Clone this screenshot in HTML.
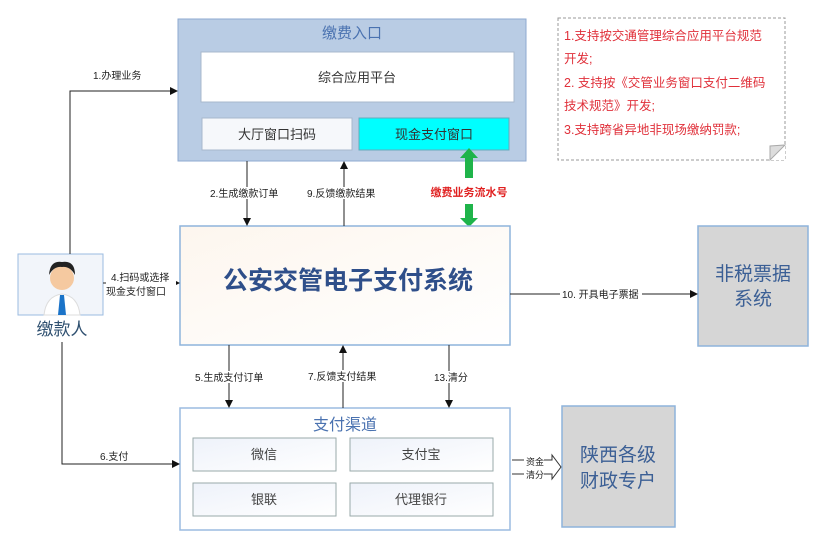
<!DOCTYPE html>
<html><head><meta charset="utf-8"><style>
body{margin:0;background:#fff;}
svg text{font-family:"Liberation Sans","Noto Sans CJK SC",sans-serif;}
</style></head><body>
<svg width="831" height="551" viewBox="0 0 831 551" xmlns="http://www.w3.org/2000/svg">
<defs>
<marker id="a" markerWidth="8" markerHeight="8" refX="7" refY="4" orient="auto" markerUnits="userSpaceOnUse"><path d="M0,0 L8,4 L0,8 z" fill="#111"/></marker>
<linearGradient id="g1" x1="0" y1="0" x2="1" y2="1"><stop offset="0" stop-color="#fdf6ee"/><stop offset="1" stop-color="#ffffff"/></linearGradient>
<linearGradient id="g2" x1="0" y1="0" x2="1" y2="1"><stop offset="0" stop-color="#eef2fa"/><stop offset="1" stop-color="#ffffff"/></linearGradient>
</defs>
<!-- top box -->
<rect x="178" y="19" width="348" height="142" fill="#b9cce4" stroke="#8eaad0"/>
<text x="352" y="38" font-size="15" fill="#4a72b0" text-anchor="middle">缴费入口</text>
<rect x="201" y="52" width="313" height="50" fill="#fff" stroke="#a8b8cc"/>
<text x="357" y="82" font-size="13" fill="#333" text-anchor="middle">综合应用平台</text>
<rect x="202" y="118" width="150" height="32" fill="#f6f8fb" stroke="#a8b8cc"/>
<text x="277" y="139" font-size="13" fill="#333" text-anchor="middle">大厅窗口扫码</text>
<rect x="359" y="118" width="150" height="32" fill="#00ffff" stroke="#6ab"/>
<text x="434" y="139" font-size="13" fill="#333" text-anchor="middle">现金支付窗口</text>
<!-- green double arrow -->
<path d="M469,148 L478,158 L473,158 L473,178 L465,178 L465,158 L460,158 z" fill="#1fb44a"/>
<path d="M465,204 L473,204 L473,218 L478,218 L469,227 L460,218 L465,218 z" fill="#1fb44a"/>
<text x="469" y="196" font-size="11" font-weight="bold" fill="#e02020" text-anchor="middle">缴费业务流水号</text>
<!-- note -->
<rect x="558" y="18" width="227" height="142" fill="#fff" stroke="#999" stroke-dasharray="3,2"/>
<path d="M770,145 L785,145 L785,160 L770,160 z" fill="#fff"/>
<path d="M770,160 L785,145 L770,146 z" fill="#ddd" stroke="#aaa"/>
<g font-size="12.5" fill="#e0303a">
<text x="564" y="40">1.支持按交通管理综合应用平台规范</text>
<text x="564" y="63">开发;</text>
<text x="564" y="87">2. 支持按《交管业务窗口支付二维码</text>
<text x="564" y="110">技术规范》开发;</text>
<text x="564" y="134">3.支持跨省异地非现场缴纳罚款;</text>
</g>
<!-- main box -->
<rect x="180" y="226" width="330" height="119" fill="url(#g1)" stroke="#8eb4dc" stroke-width="1.5"/>
<text x="348" y="289" font-size="25" font-weight="bold" fill="#2f4f8a" text-anchor="middle">公安交管电子支付系统</text>
<!-- 非税 -->
<rect x="698" y="226" width="110" height="120" fill="#d6d6d6" stroke="#8eb4dc" stroke-width="1.5"/>
<text x="753" y="280" font-size="19" fill="#3b5f95" text-anchor="middle">非税票据</text>
<text x="753" y="305" font-size="19" fill="#3b5f95" text-anchor="middle">系统</text>
<!-- person -->
<rect x="18" y="254" width="85" height="61" fill="#f2f5fa" stroke="#9bbbe0"/>
<circle cx="62" cy="278" r="12" fill="#f5c9a0"/>
<path d="M49,275 Q50,260 62,262 Q75,260 75,275 Q70,266 62,267 Q54,266 49,275z" fill="#222"/>
<path d="M44,315 Q46,296 62,294 Q78,296 80,315z" fill="#fff" stroke="#ddd"/>
<path d="M60,295 L64,295 L66,315 L58,315z" fill="#1a73c8"/>
<text x="62" y="335" font-size="17" fill="#2f5070" text-anchor="middle">缴款人</text>
<!-- bottom box -->
<rect x="180" y="408" width="330" height="122" fill="#fff" stroke="#9bbbe0" stroke-width="1.5"/>
<text x="345" y="430" font-size="16" fill="#4a72b0" text-anchor="middle">支付渠道</text>
<rect x="193" y="438" width="143" height="33" fill="url(#g2)" stroke="#9aa"/>
<text x="264" y="459" font-size="13" fill="#444" text-anchor="middle">微信</text>
<rect x="350" y="438" width="143" height="33" fill="url(#g2)" stroke="#9aa"/>
<text x="421" y="459" font-size="13" fill="#444" text-anchor="middle">支付宝</text>
<rect x="193" y="483" width="143" height="33" fill="url(#g2)" stroke="#9aa"/>
<text x="264" y="504" font-size="13" fill="#444" text-anchor="middle">银联</text>
<rect x="350" y="483" width="143" height="33" fill="url(#g2)" stroke="#9aa"/>
<text x="421" y="504" font-size="13" fill="#444" text-anchor="middle">代理银行</text>
<!-- 陕西 -->
<rect x="562" y="406" width="113" height="121" fill="#d6d6d6" stroke="#8eb4dc" stroke-width="1.5"/>
<text x="618" y="461" font-size="19" fill="#3b5f95" text-anchor="middle">陕西各级</text>
<text x="618" y="487" font-size="19" fill="#3b5f95" text-anchor="middle">财政专户</text>
<!-- hollow arrow -->
<path d="M512,460 L552,460 L552,455 L561,467 L552,479 L552,474 L512,474" fill="#fff" stroke="#333"/>
<rect x="524" y="458" width="20" height="7" fill="#fff"/><rect x="524" y="470" width="20" height="7" fill="#fff"/>
<text x="535" y="465" font-size="9" fill="#222" text-anchor="middle">资金</text>
<text x="535" y="478" font-size="9" fill="#222" text-anchor="middle">清分</text>
<!-- connectors -->
<g stroke="#222" stroke-width="1" fill="none">
<path d="M70,254 L70,91 L177,91" marker-end="url(#a)"/>
<path d="M247,161 L247,225" marker-end="url(#a)"/>
<path d="M344,226 L344,162" marker-end="url(#a)"/>
<path d="M103,283 L179,283" marker-end="url(#a)"/>
<path d="M510,294 L697,294" marker-end="url(#a)"/>
<path d="M229,345 L229,407" marker-end="url(#a)"/>
<path d="M343,408 L343,346" marker-end="url(#a)"/>
<path d="M449,345 L449,407" marker-end="url(#a)"/>
<path d="M62,342 L62,464 L179,464" marker-end="url(#a)"/>
</g>
<g font-size="10" fill="#222">
<text x="93" y="79">1.办理业务</text>
<rect x="208" y="187" width="78" height="12" fill="#fff"/>
<text x="210" y="197">2.生成缴款订单</text>
<rect x="305" y="187" width="76" height="12" fill="#fff"/>
<text x="307" y="197">9.反馈缴款结果</text>
<rect x="106" y="270" width="70" height="28" fill="#fff"/>
<text x="111" y="281">4.扫码或选择</text>
<text x="106" y="295">现金支付窗口</text>
<rect x="560" y="288" width="82" height="12" fill="#fff"/>
<text x="562" y="298">10. 开具电子票据</text>
<rect x="193" y="371" width="74" height="12" fill="#fff"/>
<text x="195" y="381">5.生成支付订单</text>
<rect x="306" y="370" width="76" height="12" fill="#fff"/>
<text x="308" y="380">7.反馈支付结果</text>
<rect x="432" y="371" width="36" height="12" fill="#fff"/>
<text x="434" y="381">13.清分</text>
<text x="100" y="460">6.支付</text>
</g>
</svg>
</body></html>
